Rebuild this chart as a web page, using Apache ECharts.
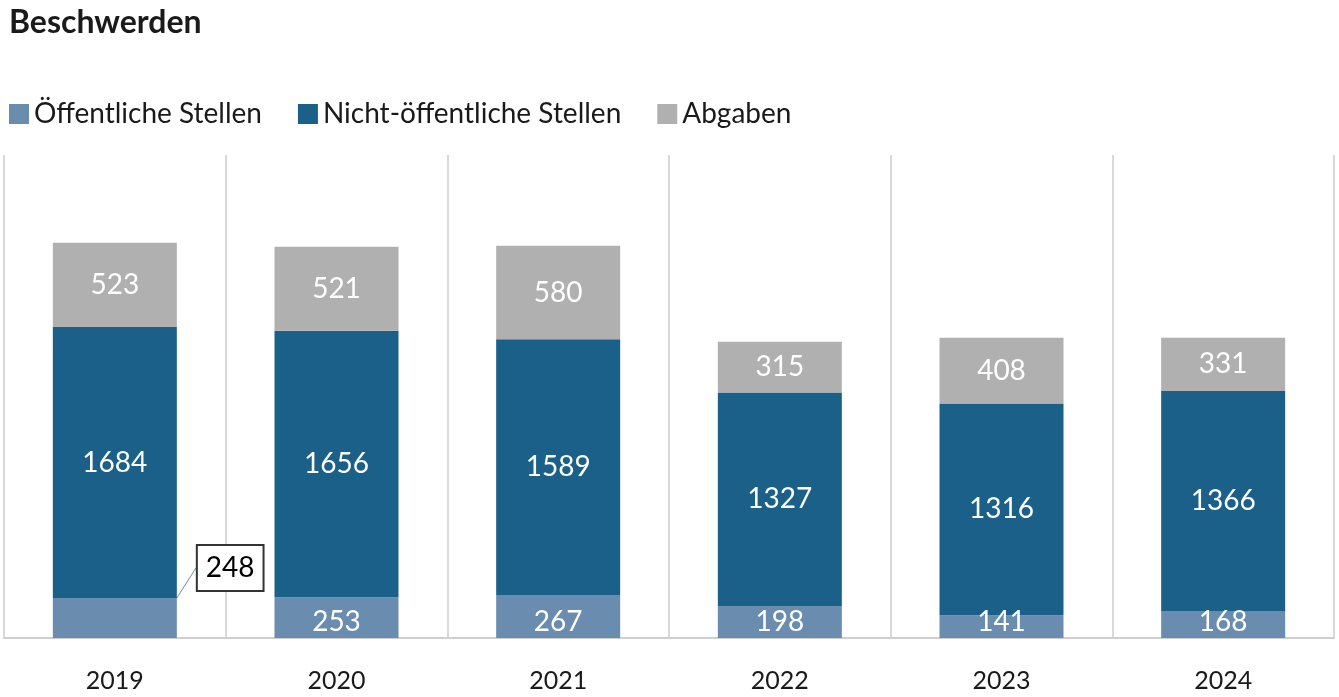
<!DOCTYPE html>
<html><head><meta charset="utf-8">
<script src="https://cdn.jsdelivr.net/npm/echarts@6/dist/echarts.min.js"></script>
<style>html,body{margin:0;padding:0;background:#fff}#c{width:1339px;height:697px}</style>
</head><body><div id="c"></div>
<script>
const categories = ['2019','2020','2021','2022','2023','2024'];
const oeffentlich = [248,253,267,198,141,168];
const nichtOeffentlich = [1684,1656,1589,1327,1316,1366];
const abgaben = [523,521,580,315,408,331];
const F = 'Lato, "Noto Sans", sans-serif';
const lbl = {show:true,position:'inside',color:'#fff',fontSize:28,fontFamily:F};
const chart = echarts.init(document.getElementById('c'));
chart.setOption({
  animation:false,
  title:{text:'Beschwerden',left:4,top:2,textStyle:{fontSize:32,fontWeight:'bold',color:'#1a1a1a',fontFamily:F}},
  legend:{left:4,top:95,itemWidth:20,itemHeight:20,itemGap:36,icon:'rect',
    textStyle:{fontSize:28,color:'#1a1a1a',fontFamily:F}},
  grid:{left:4,right:5,top:155,bottom:59},
  xAxis:{type:'category',data:categories,
    axisLine:{lineStyle:{color:'#cfcfcf',width:2}},axisTick:{show:false},
    splitLine:{show:true,lineStyle:{color:'#d9d9d9',width:2}},
    axisLabel:{fontSize:25,color:'#1a1a1a',margin:30,fontFamily:F}},
  yAxis:{type:'value',min:0,max:3000,show:false,splitLine:{show:false}},
  series:[
    {name:'Öffentliche Stellen',type:'bar',stack:'a',barWidth:124,itemStyle:{color:'#6a8caf'},
     label:Object.assign({},lbl,{position:'insideBottom',distance:2}),
     data:oeffentlich.map((v,i)=>i===0?{value:v,label:{position:[145,-52],color:'#000',backgroundColor:'#fff',borderColor:'#333',borderWidth:2,padding:[8,8],fontSize:28},labelLine:{show:true}}:v)},
    {name:'Nicht-öffentliche Stellen',type:'bar',stack:'a',itemStyle:{color:'#1b6089'},label:lbl,data:nichtOeffentlich},
    {name:'Abgaben',type:'bar',stack:'a',itemStyle:{color:'#b0b0b0'},label:lbl,data:abgaben}
  ]
});
</script></body></html>
